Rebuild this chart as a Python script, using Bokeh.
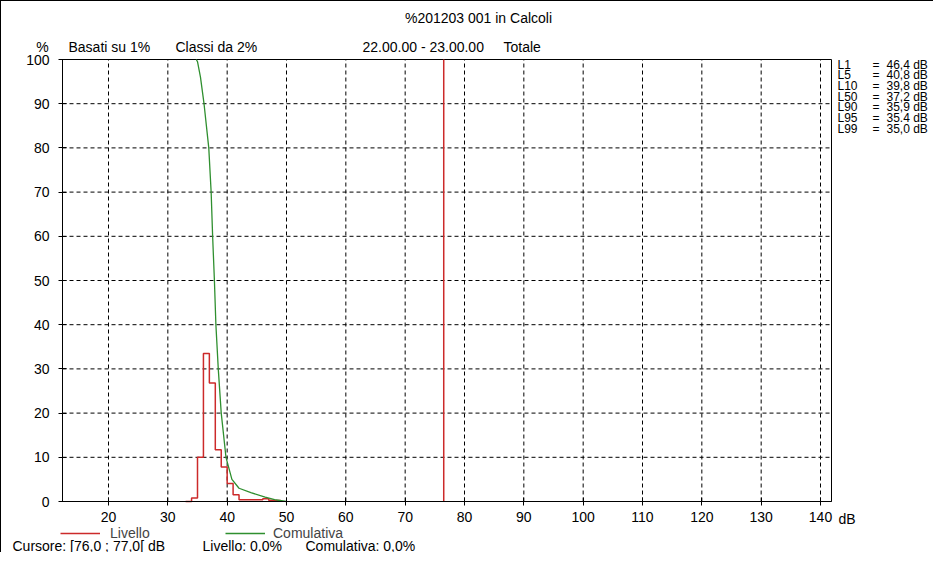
from bokeh.plotting import figure
from bokeh.models import Range1d, FixedTicker, Legend, LegendItem, ColumnDataSource
from bokeh.core.properties import value
from bokeh.embed import file_html
from bokeh.resources import INLINE

# ---------------- data ----------------
livello_bins = [34, 35, 36, 37, 38, 39, 40, 41, 42, 43, 44, 45, 46, 47, 48]
livello_pct = [0.8, 10.0, 33.5, 26.8, 11.7, 7.8, 4.1, 1.5, 0.4, 0.4, 0.4, 0.4, 0.6, 0.3, 0.2]

cum_level = [34.8, 35.0, 35.5, 36.1, 36.9, 37.3, 37.55, 37.85, 38.1, 38.5, 39.0, 39.8, 40.8, 42.0, 44.0, 46.4, 48.0, 50.0]
cum_pct = [100, 99.5, 96, 90, 80, 70, 60, 50, 40, 30, 20, 10, 5, 3, 2, 1, 0.4, 0]

cursor_db = 76.5

x_ticks = [20, 30, 40, 50, 60, 70, 80, 90, 100, 110, 120, 130, 140]
y_ticks = [0, 10, 20, 30, 40, 50, 60, 70, 80, 90, 100]

stat_names = ["L1", "L5", "L10", "L50", "L90", "L95", "L99"]
stat_values = ["46,4 dB", "40,8 dB", "39,8 dB", "37,2 dB", "35,9 dB", "35.4 dB", "35,0 dB"]

title_text = "%201203 001 in Calcoli"
header_texts = ["Basati su 1%", "Classi da 2%", "22.00.00 - 23.00.00", "Totale"]
cursor_texts = ["Cursore: [76,0 ; 77,0[ dB", "Livello: 0,0%", "Comulativa: 0,0%"]

# ---------------- layout ----------------
FONT = "Liberation Sans"
FS = "14px"
FS_STAT = "12px"
RED = "#cc2a2a"
GREEN = "#2f8f2f"

W, H = 933, 552
B = 1                      # css border width (left/top)
PXDB = 712 / 120           # px per dB
PXPCT = 442 / 100          # px per %

def xd(px):                # picture px -> dB
    return 20 + (px - 108) / PXDB

def yd(py):                # picture px -> %
    return (501 - py) / PXPCT

XA, XB = xd(B), xd(B + W)
YA, YB = yd(B + H), yd(B)
PX0, PX1 = xd(62), xd(831)   # plot area extents
PY0, PY1 = 0, 100

p = figure(width=W, height=H, output_backend="svg", toolbar_location=None,
           x_range=Range1d(XA, XB), y_range=Range1d(YA, YB),
           min_border=0, min_border_left=0, min_border_right=0,
           min_border_top=0, min_border_bottom=0)
p.styles = {"border-left": "1px solid black", "border-top": "1px solid black"}
p.background_fill_color = "white"
p.border_fill_color = "white"
p.outline_line_color = None
p.xgrid.visible = False
p.ygrid.visible = False

xa, ya = p.xaxis[0], p.yaxis[0]
xa.fixed_location = PY0
xa.bounds = (PX0, PX1)
ya.fixed_location = PX0
ya.bounds = (PY0, PY1)
for ax, ticks in ((xa, x_ticks), (ya, y_ticks)):
    ax.ticker = FixedTicker(ticks=ticks)
    ax.axis_line_color = "black"
    ax.major_tick_line_color = "black"
    ax.major_tick_in = 4
    ax.major_tick_out = 4
    ax.minor_tick_line_color = None
    ax.major_label_text_font = FONT
    ax.major_label_text_font_size = FS
    ax.major_label_text_color = "black"
xa.major_label_standoff = 6
ya.major_label_standoff = 9

# dashed grid lines built from the tick lists
gx = [t for t in x_ticks]
gy = [t for t in y_ticks if t > PY0]
p.segment(x0=gx, y0=[PY0] * len(gx), x1=gx, y1=[PY1] * len(gx),
          line_color="black", line_dash="4 3", line_width=1)
p.segment(x0=[PX0] * len(gy), y0=gy, x1=[PX1] * len(gy), y1=gy,
          line_color="black", line_dash="4 3", line_width=1)
# plot area box
p.quad(left=[PX0], right=[PX1], bottom=[PY0], top=[PY1], fill_color=None,
       line_color="black", line_width=1)

# histogram step (Livello)
xs = [livello_bins[0] - 1] + livello_bins + [livello_bins[-1] + 1]
ys = [0] + livello_pct + [0]
r_liv = p.step(xs, ys, mode="after", line_color=RED, line_width=1.5)

# cumulative (Comulativa)
r_cum = p.line(cum_level, cum_pct, line_color=GREEN, line_width=1.3)

# cursor
p.segment(x0=[cursor_db], y0=[PY0], x1=[cursor_db], y1=[PY1], line_color=RED, line_width=1.5)

# legends
def make_legend(label, rend, left_px, standoff):
    return Legend(items=[LegendItem(label=label, renderers=[rend])],
                  location=(left_px - B, (B + H) - 533 - 10), padding=0, margin=0, spacing=0,
                  border_line_color=None, background_fill_alpha=0,
                  glyph_width=40, glyph_height=20, label_height=20, label_standoff=standoff,
                  label_text_font=FONT, label_text_font_size=FS)
p.add_layout(make_legend("Livello", r_liv, 60, 10))
p.add_layout(make_legend("Comulativa", r_cum, 225, 8))

# texts
def texts(items, align, size=FS):
    src = ColumnDataSource(dict(x=[xd(a) for _, a, _ in items],
                                y=[yd(b) for _, _, b in items],
                                t=[s for s, _, _ in items]))
    p.text(x="x", y="y", text="t", source=src, text_align=align, text_baseline="middle",
           text_font=value(FONT), text_font_size=value(size), text_color="black")

left_items = []
for t, px in zip(header_texts, [68, 175, 362, 503]):
    left_items.append((t, px, 46))
left_items.append(("dB", 838, 518))
for t, px in zip(cursor_texts, [12, 202, 305]):
    left_items.append((t, px, 545))
texts(left_items, "left")
texts([(title_text, 478, 17), ("%", 42, 46)], "center")

rows = [64 + i * 10.7 for i in range(len(stat_names))]
stat_items = []
for n, v, r in zip(stat_names, stat_values, rows):
    stat_items.append((n, 837, r))
    stat_items.append(("=", 872, r))
    stat_items.append((v, 886, r))
texts(stat_items, "left", FS_STAT)

open("out.html", "w").write(file_html(p, INLINE))
